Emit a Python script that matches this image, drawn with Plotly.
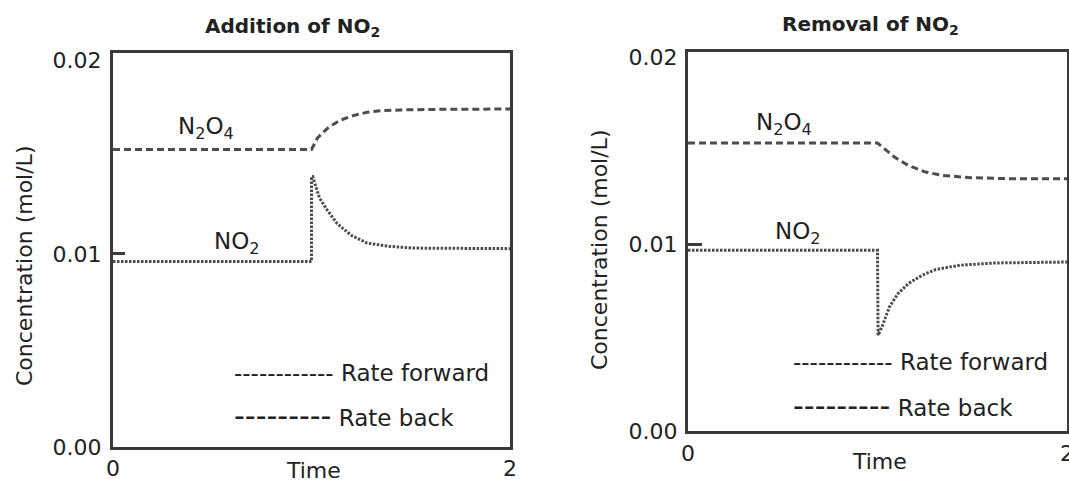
import plotly.graph_objects as go

# ---- data ----
# Left panel: addition of NO2
add_n2o4_t = [0, 1.0, 1.03, 1.08, 1.14, 1.21, 1.28, 1.36, 1.45, 1.6, 2.0]
add_n2o4_c = [0.0154, 0.0154, 0.0160, 0.0165, 0.0169, 0.01716, 0.01733, 0.01742, 0.01745, 0.01748, 0.0175]
add_no2_t = [0, 1.0, 1.0, 1.006, 1.04, 1.08, 1.13, 1.2, 1.28, 1.39, 1.51, 2.0]
add_no2_c = [0.0096, 0.0096, 0.0140, 0.0140, 0.0129, 0.01225, 0.01156, 0.01096, 0.01056, 0.01039, 0.0103, 0.01027]

# Right panel: removal of NO2
rem_n2o4_t = [0, 1.0, 1.036, 1.09, 1.163, 1.254, 1.344, 1.49, 1.708, 2.0]
rem_n2o4_c = [0.01542, 0.01542, 0.01512, 0.01467, 0.01422, 0.01387, 0.01369, 0.01357, 0.01351, 0.01351]
rem_no2_t = [0, 1.0, 1.003, 1.027, 1.063, 1.108, 1.163, 1.235, 1.308, 1.435, 1.617, 2.0]
rem_no2_c = [0.00968, 0.00968, 0.00513, 0.00567, 0.00665, 0.00736, 0.0079, 0.00834, 0.00865, 0.00888, 0.009, 0.00905]

titles = ["Addition of NO<sub>2</sub>", "Removal of NO<sub>2</sub>"]
y_title = "Concentration (mol/L)"
x_title = "Time"
y_ticks = [0, 0.01, 0.02]
x_ticks = [0, 2]
legend_fwd = "------------ Rate forward"
legend_back = "<span style='font-size:30px'>---------</span> Rate back"

FONT = "DejaVu Sans"
TXT = "#222222"
LINE = "#4d4d4d"
FRAME = "#3a3a3a"
W, H = 1069, 482

fig = go.Figure()

panels = [
    dict(xa="x", ya="y", n2o4=(add_n2o4_t, add_n2o4_c), no2=(add_no2_t, add_no2_c)),
    dict(xa="x2", ya="y2", n2o4=(rem_n2o4_t, rem_n2o4_c), no2=(rem_no2_t, rem_no2_c)),
]
for p in panels:
    fig.add_trace(go.Scatter(x=p["n2o4"][0], y=p["n2o4"][1], mode="lines", xaxis=p["xa"], yaxis=p["ya"],
                             line=dict(color=LINE, width=3, dash="7px,4px"), showlegend=False, name="N2O4"))
    fig.add_trace(go.Scatter(x=p["no2"][0], y=p["no2"][1], mode="lines", xaxis=p["xa"], yaxis=p["ya"],
                             line=dict(color=LINE, width=3, dash="2.5px,1.5px"), showlegend=False, name="NO2"))

def px_x(p):
    return p / W
def px_y(p):
    return 1 - p / H

axis_common = dict(showline=True, mirror=True, linecolor=FRAME, linewidth=3, showgrid=False, zeroline=False,
                   tickfont=dict(family=FONT, size=22, color=TXT), ticklabeloverflow="allow")

fig.update_layout(
    width=W, height=H, margin=dict(l=0, r=0, t=0, b=0, autoexpand=False),
    paper_bgcolor="white", plot_bgcolor="white",
    xaxis=dict(domain=[px_x(113), px_x(510)], range=[0, 2], tickvals=x_ticks, ticks="",
               anchor="y", ticklabelstandoff=0, **axis_common),
    yaxis=dict(domain=[px_y(447), px_y(53)], range=[0, 0.0204], tickvals=y_ticks, tickformat=".2f", ticks="",
               anchor="x", ticklabelstandoff=4,
               minor=dict(tickvals=[0.01], ticks="inside", ticklen=12, tickwidth=3, tickcolor=FRAME),
               **axis_common),
    xaxis2=dict(domain=[px_x(688), px_x(1067)], range=[0, 2], tickvals=x_ticks, ticks="",
                anchor="y2", ticklabelstandoff=1, **axis_common),
    yaxis2=dict(domain=[px_y(431), px_y(52)], range=[0, 0.0203], tickvals=y_ticks, tickformat=".2f", ticks="",
                anchor="x2", ticklabelstandoff=3,
                minor=dict(tickvals=[0.01], ticks="inside", ticklen=14, tickwidth=3, tickcolor=FRAME),
                **axis_common),
)

ann = []
f22 = dict(family=FONT, size=22, color=TXT)
f23 = dict(family=FONT, size=23, color=TXT)
tfont = dict(family=FONT, size=20, color=TXT)
def pa(text, x, y, font, **kw):
    d = dict(text=text, x=px_x(x), y=px_y(y), xref="paper", yref="paper", showarrow=False,
             xanchor="center", yanchor="middle", font=font)
    d.update(kw)
    return d

ann.append(pa("<b>" + titles[0] + "</b>", 292, 27, tfont))
ann.append(pa("<b>" + titles[1] + "</b>", 870, 25, tfont))
ann.append(pa(y_title, 24, 266, f22, textangle=-90))
ann.append(pa(y_title, 599, 250, f22, textangle=-90))
ann.append(pa(x_title, 313, 470, f22))
ann.append(pa(x_title, 879, 461, f22))

def da(text, x, y, xr, yr, **kw):
    d = dict(text=text, x=x, y=y, xref=xr, yref=yr, showarrow=False, xanchor="center", yanchor="middle", font=f23)
    d.update(kw)
    return d

ann.append(da("N<sub>2</sub>O<sub>4</sub>", 0.469, 0.01654, "x", "y"))
ann.append(da("NO<sub>2</sub>", 0.625, 0.01054, "x", "y"))
ann.append(da("N<sub>2</sub>O<sub>4</sub>", 0.509, 0.01642, "x2", "y2"))
ann.append(da("NO<sub>2</sub>", 0.581, 0.01059, "x2", "y2"))
ann.append(da(legend_fwd, 0.6, 0.00382, "x", "y", xanchor="left"))
ann.append(da(legend_back, 0.6, 0.00165, "x", "y", xanchor="left"))
ann.append(da(legend_fwd, 0.545, 0.00369, "x2", "y2", xanchor="left"))
ann.append(da(legend_back, 0.545, 0.00139, "x2", "y2", xanchor="left"))
fig.update_layout(annotations=ann)

fig.write_html("out.html", config={"displayModeBar": False},
               post_script="document.body.style.margin='0px';document.body.style.overflow='hidden';")
